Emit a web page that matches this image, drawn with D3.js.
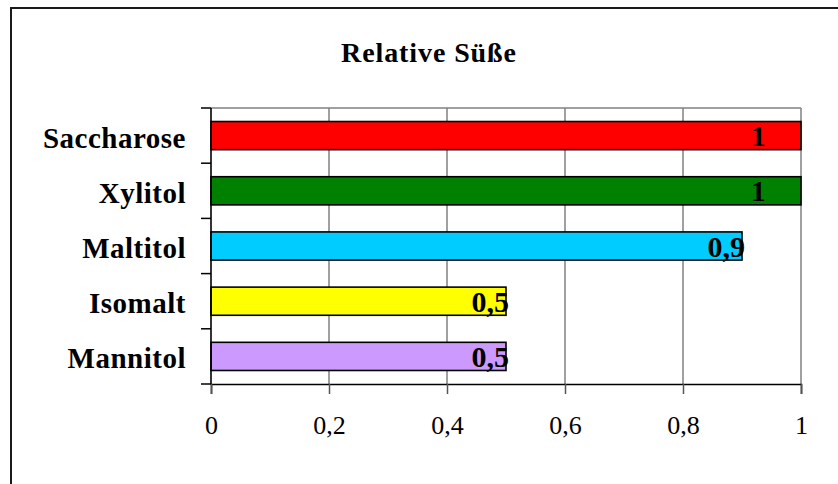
<!DOCTYPE html>
<html>
<head>
<meta charset="utf-8">
<script src="https://cdn.jsdelivr.net/npm/d3@7"></script>
<style>
  html, body { margin: 0; padding: 0; background: #fff; }
  svg { display: block; }
  text { font-family: "Liberation Serif", "Times New Roman", serif; fill: #000; }
</style>
</head>
<body>
<svg id="chart" width="838" height="484"></svg>
<script>
const title = "Relative Süße";
const categories = ["Saccharose", "Xylitol", "Maltitol", "Isomalt", "Mannitol"];
const values = [1, 1, 0.9, 0.5, 0.5];
const labels = ["1", "1", "0,9", "0,5", "0,5"];
const colors = ["#FF0000", "#008000", "#00CCFF", "#FFFF00", "#CC99FF"];
const xTicks = [0, 0.2, 0.4, 0.6, 0.8, 1];
const xTickLabels = ["0", "0,2", "0,4", "0,6", "0,8", "1"];

const svg = d3.select("#chart");
const plot = { left: 211, right: 801, top: 108, bottom: 384 };

// outer frame (clipped on right and bottom)
svg.append("rect")
  .attr("x", 11).attr("y", 8).attr("width", 860).attr("height", 500)
  .attr("fill", "#fff").attr("stroke", "#1a1a1a").attr("stroke-width", 2);

const x = d3.scaleLinear().domain([0, 1]).range([plot.left, plot.right]);
const y = d3.scaleBand().domain(categories).range([plot.top, plot.bottom]).paddingInner(0.49).paddingOuter(0.245);
const yOuter = d3.scaleBand().domain(categories).range([plot.top, plot.bottom]);

// title
svg.append("text")
  .attr("x", 429).attr("y", 62)
  .attr("text-anchor", "middle")
  .style("font-size", "28px").style("font-weight", "bold").style("letter-spacing", "0.9px")
  .text(title);

// gridlines (vertical) + top border
const g = svg.append("g");
g.selectAll("line.grid").data(xTicks.filter(d => d > 0)).join("line")
  .attr("class", "grid")
  .attr("x1", d => x(d)).attr("x2", d => x(d))
  .attr("y1", plot.top).attr("y2", plot.bottom)
  .attr("stroke", "#808080").attr("stroke-width", 1.5);
g.append("line")
  .attr("x1", plot.left).attr("x2", plot.right)
  .attr("y1", plot.top).attr("y2", plot.top)
  .attr("stroke", "#808080").attr("stroke-width", 1.5);

// bars
svg.append("g").selectAll("rect").data(categories).join("rect")
  .attr("x", x(0))
  .attr("y", d => y(d))
  .attr("width", (d, i) => x(values[i]) - x(0))
  .attr("height", y.bandwidth())
  .attr("fill", (d, i) => colors[i])
  .attr("stroke", "#000").attr("stroke-width", 1.6);

// x axis
const xAxis = d3.axisBottom(x).tickValues(xTicks)
  .tickFormat((d, i) => xTickLabels[i]).tickSize(10).tickPadding(22);
const xg = svg.append("g").attr("transform", `translate(0,${plot.bottom})`).call(xAxis);
xg.select(".domain").attr("stroke", "#000").attr("stroke-width", 1.6);
xg.selectAll(".tick line").attr("stroke", "#555").attr("stroke-width", 1.5);
xg.selectAll(".tick text")
  .style("font-size", "26px").style("font-family", "'Liberation Serif', 'Times New Roman', serif")
  .attr("fill", "#000");

// y axis: boundary ticks
const boundaries = categories.map(c => yOuter(c)).concat([plot.bottom]);
svg.append("line")
  .attr("x1", plot.left).attr("x2", plot.left)
  .attr("y1", plot.top).attr("y2", plot.bottom)
  .attr("stroke", "#000").attr("stroke-width", 1.6);
svg.append("g").selectAll("line").data(boundaries).join("line")
  .attr("x1", plot.left - 10).attr("x2", plot.left)
  .attr("y1", d => d).attr("y2", d => d)
  .attr("stroke", "#000").attr("stroke-width", 1.5);

// category labels
svg.append("g").selectAll("text").data(categories).join("text")
  .attr("x", plot.left - 25)
  .attr("y", d => yOuter(d) + yOuter.bandwidth() / 2 + 12)
  .attr("text-anchor", "end")
  .style("font-size", "29px").style("font-weight", "bold").style("letter-spacing", "0.5px")
  .text(d => d);

// value labels (inside end, limited to inner plot area)
svg.append("g").selectAll("text").data(categories).join("text")
  .attr("x", (d, i) => x(Math.min(values[i], 0.935)) + 3)
  .attr("y", d => y(d) + y.bandwidth() / 2 + 10.5)
  .attr("text-anchor", "end")
  .style("font-size", "30px").style("font-weight", "bold")
  .text((d, i) => labels[i]);
</script>
</body>
</html>
